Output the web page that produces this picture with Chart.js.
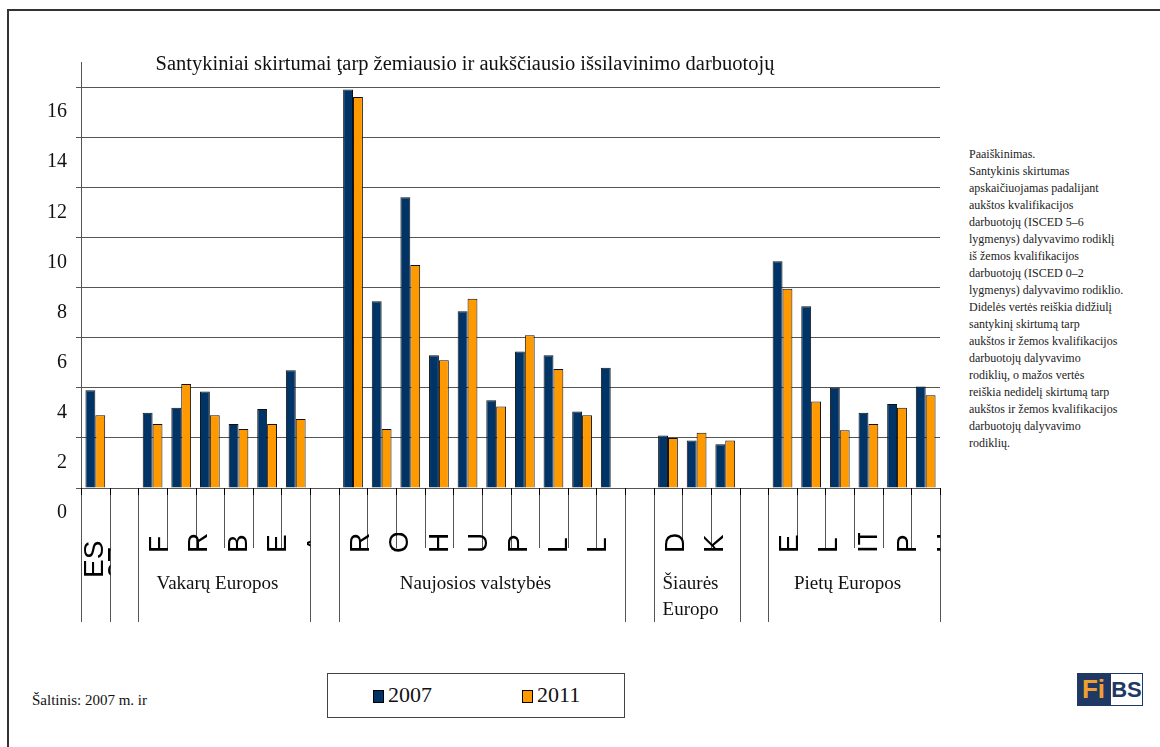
<!DOCTYPE html>
<html>
<head>
<meta charset="utf-8">
<script src="https://cdn.jsdelivr.net/npm/chart.js@4"></script>
<style>
  body { margin: 0; width: 1160px; height: 747px; overflow: hidden; background: #fff; position: relative; font-family: 'Liberation Serif', serif; color: #111; }
  #frame { position: absolute; left: 7px; top: 9px; width: 1200px; height: 800px; border: 2px solid #333; }
  #chart { position: absolute; left: 0; top: 0; }
  #title { position: absolute; left: 0; top: 51px; width: 930px; text-align: center; font-size: 20.5px; line-height: 24px; }
  #note { position: absolute; left: 969px; top: 146px; font-size: 12px; line-height: 17px; color: #222; white-space: nowrap; }
  #source { position: absolute; left: 32px; top: 691px; font-size: 15px; line-height: 18px; }
  #legend { position: absolute; left: 327px; top: 673px; width: 296px; height: 43px; border: 1px solid #444; }
  .item { position: absolute; top: 9px; font-size: 22px; line-height: 24px; }
  .item i { display: inline-block; width: 9px; height: 11px; border: 1px solid #000; margin-right: 4px; vertical-align: -1px; }
  #logo { position: absolute; left: 1077px; top: 673px; height: 33px; font-family: 'Liberation Sans', sans-serif; font-weight: bold; }
  #logo .fi { position: absolute; left: 0; top: 0; width: 33px; height: 33px; background: #1f3864; color: #f0a030; font-size: 26px; line-height: 33px; text-align: center; }
  #logo .bs { position: absolute; left: 33px; top: 0; width: 31px; height: 31px; border: 1px solid #1f3864; background: #fff; color: #1f3864; font-size: 22px; line-height: 31px; text-align: center; }
</style>
</head>
<body>
<div id="frame"></div>
<canvas id="chart" width="950" height="640"></canvas>
<div id="title">Santykiniai skirtumai ţarp žemiausio ir aukščiausio išsilavinimo darbuotojų</div>
<div id="note">Paaiškinimas.<br>Santykinis skirtumas<br>apskaičiuojamas padalijant<br>aukštos kvalifikacijos<br>darbuotojų (ISCED 5–6<br>lygmenys) dalyvavimo rodiklį<br>iš žemos kvalifikacijos<br>darbuotojų (ISCED 0–2<br>lygmenys) dalyvavimo rodiklio.<br>Didelės vertės reiškia didžiulį<br>santykinį skirtumą tarp<br>aukštos ir žemos kvalifikacijos<br>darbuotojų dalyvavimo<br>rodiklių, o mažos vertės<br>reiškia nedidelį skirtumą tarp<br>aukštos ir žemos kvalifikacijos<br>darbuotojų dalyvavimo<br>rodiklių.</div>
<div id="source">Šaltinis: 2007 m. ir</div>
<div id="legend"></div>
<div id="logo"><div class="fi">Fi</div><div class="bs">BS</div></div>
<script>
// Category slots (empty strings are the gaps between groups)
const categories = ['ES27', '',
  'V1', 'V2', 'V3', 'V4', 'V5', 'V6', '',
  'N1', 'N2', 'N3', 'N4', 'N5', 'N6', 'N7', 'N8', 'N9', 'N10', '',
  'S1', 'S2', 'S3', '',
  'P1', 'P2', 'P3', 'P4', 'P5', 'P6'];

const seriesLabels = ['2007', '2011'];
const seriesColors = ['#003366', '#ff9900'];

const values2007 = [3.9, null, 3.0, 3.2, 3.85, 2.55, 3.15, 4.7, null,
  15.9, 7.45, 11.6, 5.3, 7.05, 3.5, 5.45, 5.3, 3.05, 4.8, null,
  2.1, 1.9, 1.75, null,
  9.05, 7.25, 4.0, 3.0, 3.35, 4.05];
const values2011 = [2.9, null, 2.55, 4.15, 2.9, 2.35, 2.55, 2.75, null,
  15.6, 2.35, 8.9, 5.1, 7.55, 3.25, 6.1, 4.75, 2.9, null, null,
  2.0, 2.2, 1.9, null,
  7.95, 3.45, 2.3, 2.55, 3.2, 3.7];

// Groups on the second axis level: first and last slot index
const groupRanges = [[0, 0], [2, 7], [9, 18], [20, 22], [24, 29]];
const groupNames = ['', 'Vakarų Europos', 'Naujosios valstybės', 'Šiaurės\nEuropo', 'Pietų Europos'];
// rotated tick glyphs as they show under each group
const groupTickLabels = [['ES', '27'], ['F', 'R', 'B', 'E', 'A'], ['R', 'O', 'H', 'U', 'P', 'L', 'L', ':'], ['D', 'K'], ['E', 'L', 'IT', 'P', 'H']];

// draws the two-level category axis under the bars
const groupAxis = {
  id: 'groupAxis',
  afterDraw(chart) {
    const ctx = chart.ctx;
    const x = chart.scales.x;
    const base = chart.chartArea.bottom;
    const w = x.getPixelForValue(1) - x.getPixelForValue(0);
    const edge = i => Math.round(x.getPixelForValue(i) - w / 2) + 0.5;

    const longEdges = new Set();
    groupRanges.forEach(([a, b]) => { longEdges.add(a); longEdges.add(b + 1); });

    ctx.save();
    ctx.lineWidth = 1;
    for (let i = 0; i <= categories.length; i++) {
      const px = edge(i);
      ctx.strokeStyle = '#555';
      ctx.beginPath();
      ctx.moveTo(px, base);
      ctx.lineTo(px, base + (longEdges.has(i) ? 134 : 60));
      ctx.stroke();
      ctx.strokeStyle = '#000';
      ctx.beginPath();
      ctx.moveTo(px, base);
      ctx.lineTo(px, base + 7);
      ctx.stroke();
    }

    groupRanges.forEach(([a, b], g) => {
      const gl = edge(a), gr = edge(b + 1);
      // rotated glyph labels, clipped to the group
      ctx.save();
      ctx.beginPath();
      ctx.rect(gl, base + 45, gr - gl, 110);
      ctx.clip();
      ctx.fillStyle = '#000';
      ctx.font = '28px "Liberation Sans", sans-serif';
      ctx.textAlign = 'left';
      ctx.textBaseline = 'alphabetic';
      groupTickLabels[g].forEach((txt, k) => {
        const bx = g === 0 ? gl + 21 + 24 * k : gl + 29 + 39.6 * k;
        const by = g === 0 ? base + 90 : base + 65;
        ctx.save();
        ctx.translate(bx, by);
        ctx.rotate(-Math.PI / 2);
        ctx.fillText(txt, 0, 0);
        ctx.restore();
      });
      ctx.restore();

      // group name
      ctx.fillStyle = '#111';
      ctx.font = '19px "Liberation Serif", serif';
      ctx.textAlign = 'center';
      ctx.textBaseline = 'middle';
      groupNames[g].split('\n').forEach((line, k) => {
        ctx.fillText(line, (gl + gr) / 2 - 7, base + 96 + 26 * k);
      });
    });
    ctx.restore();
  }
};

const chart = new Chart(document.getElementById('chart'), {
  type: 'bar',
  data: {
    labels: categories,
    datasets: [
      { label: seriesLabels[0], data: values2007, backgroundColor: seriesColors[0], borderColor: '#111', borderWidth: 1 },
      { label: seriesLabels[1], data: values2011, backgroundColor: seriesColors[1], borderColor: '#111', borderWidth: 1 }
    ]
  },
  options: {
    responsive: false,
    animation: false,
    layout: { padding: { top: 62, right: 10, left: 0, bottom: 0 } },
    datasets: { bar: { categoryPercentage: 0.69, barPercentage: 1.0 } },
    plugins: { legend: { display: false }, title: { display: false }, tooltip: { enabled: false } },
    scales: {
      x: {
        grid: { display: false },
        ticks: { display: false },
        border: { display: true, color: '#555' },
        afterFit: s => { s.height = 152; }
      },
      y: {
        min: 0,
        max: 17,
        afterBuildTicks: a => { a.ticks = a.ticks.filter(t => t.value <= 16); },
        ticks: { stepSize: 2, labelOffset: 25, padding: 9, color: '#111', font: { family: 'Liberation Serif', size: 20 } },
        grid: { color: '#555', tickLength: 5 },
        border: { color: '#555' },
        afterFit: s => { s.width = 81; }
      }
    }
  },
  plugins: [groupAxis]
});

// legend box under the chart
const legend = document.getElementById('legend');
const legendLeft = [45, 194];
seriesLabels.forEach((lab, i) => {
  const el = document.createElement('div');
  el.className = 'item';
  el.style.left = legendLeft[i] + 'px';
  el.innerHTML = '<i style="background:' + seriesColors[i] + '"></i>' + lab;
  legend.appendChild(el);
});
</script>
</body>
</html>
